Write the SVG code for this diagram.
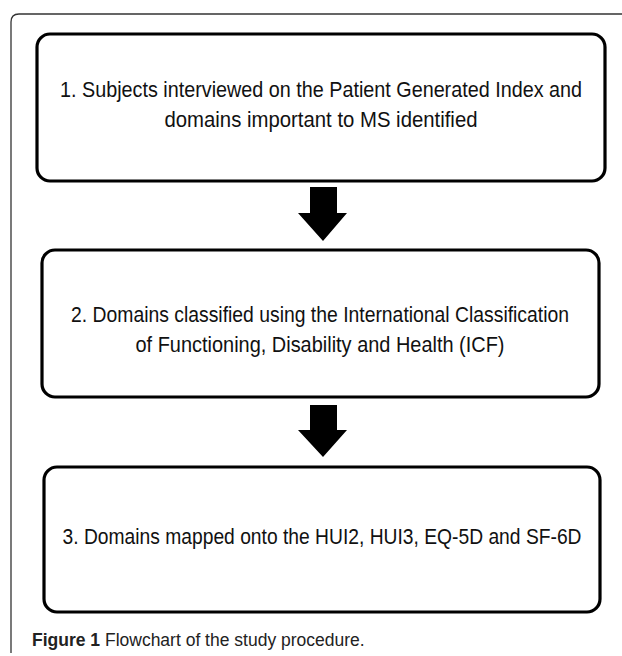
<svg xmlns="http://www.w3.org/2000/svg" width="622" height="656" viewBox="0 0 622 656">
<style>
.frame{fill:none;stroke:#333;stroke-width:1.3}
.box{fill:#fff;stroke:#000;stroke-width:3.2}
.t{font-family:"Liberation Sans",Arial,sans-serif;font-size:19.8px;fill:#111;text-anchor:middle}
.cap{font-family:"Liberation Sans",Arial,sans-serif;font-size:17.5px;fill:#222}
.arrow{fill:#000}
</style>
<rect width="622" height="656" fill="#fff"/>
<path class="frame" d="M11,653 V22 Q11,14 19,14 H622"/>
<g id="node1">
<rect class="box" x="37" y="34" width="568" height="147" rx="13"/>
<text class="t" transform="translate(321,97) scale(1,1.15)" textLength="522" lengthAdjust="spacingAndGlyphs">1. Subjects interviewed on the Patient Generated Index and</text>
<text class="t" transform="translate(321,127) scale(1,1.15)" textLength="313" lengthAdjust="spacingAndGlyphs">domains important to MS identified</text>
</g>
<g id="node2">
<rect class="box" x="42" y="250" width="557" height="147" rx="13"/>
<text class="t" transform="translate(320,322) scale(1,1.15)" textLength="498" lengthAdjust="spacingAndGlyphs">2. Domains classified using the International Classification</text>
<text class="t" transform="translate(320,352) scale(1,1.15)" textLength="369" lengthAdjust="spacingAndGlyphs">of Functioning, Disability and Health (ICF)</text>
</g>
<g id="node3">
<rect class="box" x="44" y="467" width="556" height="145" rx="13"/>
<text class="t" transform="translate(322,544) scale(1,1.15)" textLength="519" lengthAdjust="spacingAndGlyphs">3. Domains mapped onto the HUI2, HUI3, EQ-5D and SF-6D</text>
</g>
<g id="connectors">
<polygon class="arrow" points="310,187 337,187 337,213 347,213 323,241 298,213 310,213"/>
<polygon class="arrow" points="310,405 337,405 337,430 347,430 323,457 298,430 310,430"/>
</g>
<text class="cap" x="32" y="646"><tspan font-weight="bold">Figure 1</tspan> Flowchart of the study procedure.</text>
</svg>
